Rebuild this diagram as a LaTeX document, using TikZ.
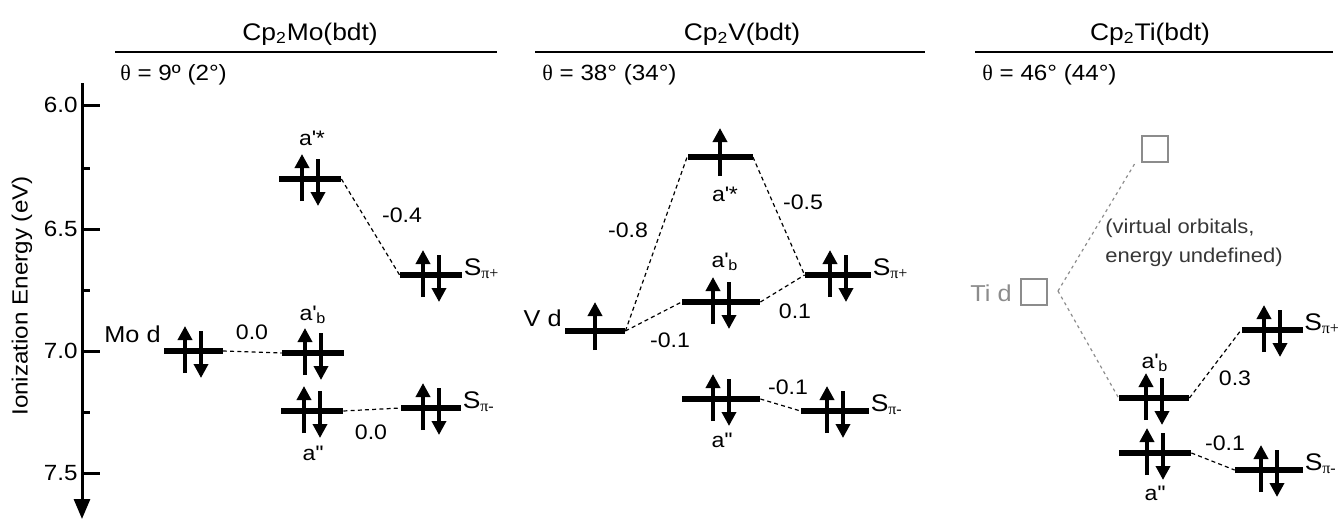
\documentclass[tikz,border=0pt]{standalone}
\usepackage{fontspec}
\setmainfont{Liberation Sans}[FakeStretch=1.1]
\newfontfamily\greekserif{Liberation Serif}
\usetikzlibrary{arrows.meta}
\definecolor{tigray}{RGB}{140,140,140}
\definecolor{notegray}{RGB}{55,55,55}

\begin{document}
\begin{tikzpicture}[x=0.5pt, y=-0.5pt,
    every node/.style={font=\fontsize{10.5}{12}\selectfont, inner sep=0pt},
    orb/.style={rectangle, fill=black, inner sep=0pt, minimum height=3.2pt, minimum width=#1},
    eup/.style={line width=2.1pt, -{Triangle[width=7pt, length=7pt]}},
    conn/.style={line width=0.6pt, dash pattern=on 2pt off 1.6pt},
    vconn/.style={conn, tigray, dash pattern=on 1.5pt off 1.8pt},
    vbox/.style={draw=tigray, line width=0.7pt, minimum width=13pt, minimum height=13pt},
    heading/.style={font=\fontsize{12}{14}\selectfont},
    angle/.style={font=\fontsize{11}{13}\selectfont, anchor=west},
    spi/.style={anchor=base west, font=\fontsize{12}{14}\selectfont},
    titlerule/.style={line width=0.8pt},
    axtick/.style={line width=1.5pt}
]
\useasboundingbox (0,0) rectangle (1340,520);

% Energy axis
\draw[line width=1.5pt, -{Triangle[width=8pt, length=10pt]}] (82,83) -- (82,519);
\foreach \y/\t [count=\i] in {105/6.0, 229/6.5, 351/7.0, 473/7.5} {
    \draw[axtick] (81,\y) -- (100,\y);
    \node[anchor=east, font=\fontsize{11}{13}\selectfont] (tk\i) at (78,\y) {\t};
}
\foreach \y in {168, 290, 412} {
    \draw[axtick] (81,\y) -- (90,\y);
}
\node[rotate=90, font=\fontsize{11}{13}\selectfont] (ylab) at (22,296) {Ionization Energy (eV)};

% Panel headings
\node[heading] (h1) at (310,34) {Cp\textsubscript{2}Mo(bdt)};
\node[heading] (h2) at (742,34) {Cp\textsubscript{2}V(bdt)};
\node[heading] (h3) at (1150,34) {Cp\textsubscript{2}Ti(bdt)};
\draw[titlerule] (115,52) -- (497,52);
\draw[titlerule] (535,52) -- (925,52);
\draw[titlerule] (975,52) -- (1333,52);
\node[angle] (ang1) at (120,75) {{\greekserif θ} = 9º (2°)};
\node[angle] (ang2) at (542,75) {{\greekserif θ} = 38° (34°)};
\node[angle] (ang3) at (982,75) {{\greekserif θ} = 46° (44°)};

% Cp2Mo(bdt) levels
\node[orb=29.5pt] (mod) at (193,351) {};
\node[orb=31pt] (mastar) at (310,179) {};
\node[orb=31pt] (mab) at (313,353) {};
\node[orb=31pt] (mapp) at (312,411) {};
\node[orb=31pt] (mspp) at (431,275) {};
\node[orb=30pt] (mspm) at (431,408) {};

% Cp2V(bdt) levels
\node[orb=30pt] (vd) at (595,331) {};
\node[orb=32.5pt] (vastar) at (720,157) {};
\node[orb=39pt] (vab) at (721,302) {};
\node[orb=39pt] (vapp) at (721,399) {};
\node[orb=33pt] (vspp) at (838,275) {};
\node[orb=34pt] (vspm) at (835,411) {};

% Cp2Ti(bdt) levels
\node[vbox] (tid) at (1034,292) {};
\node[vbox] (tvirt) at (1155,149) {};
\coordinate (tvert) at (1058,291);
\node[orb=35pt] (tab) at (1154,398) {};
\node[orb=36pt] (tapp) at (1155,453) {};
\node[orb=30.5pt] (tspp) at (1272,330) {};
\node[orb=34pt] (tspm) at (1269,470) {};

% electrons
\foreach \n in {mod, mastar, mab, mapp, mspp, mspm, vab, vapp, vspp, vspm, tab, tapp, tspp, tspm} {
    \draw[eup] ([xshift=-4pt]\n.center) ++(0,22) -- ++(0,-47);
    \draw[eup] ([xshift=4pt]\n.center) ++(0,-20) -- ++(0,47);
}
\foreach \n in {vd, vastar} {
    \draw[eup] (\n.center) ++(0,19) -- ++(0,-48);
}

% correlation lines
\foreach \i/\j in {mod/mab, mapp/mspm, mastar/mspp, vd/vastar, vd/vab, vastar/vspp, vab/vspp, vapp/vspm, tab/tspp, tapp/tspm} {
    \draw[conn] (\i.east) -- (\j.west);
}
\draw[vconn] (tvert) -- ([xshift=-3pt]tvirt.south west);
\draw[vconn] (tvert) -- (tab.west);

% orbital labels
\node[anchor=east, font=\fontsize{11.5}{13}\selectfont] (lmod) at (161,334) {Mo d};
\node (lmastar) at (312,138) {a\textquotesingle*};
\node (lmab) at (313,315) {a\textquotesingle\textsubscript{b}};
\node (lmapp) at (313,453) {a\textquotesingle\textquotesingle};
\node[spi] (lmspp) at ([xshift=0.5pt]mspp.east) {S\textsubscript{\greekserif π+}};
\node[spi] (lmspm) at ([xshift=0.5pt]mspm.east) {S\textsubscript{\greekserif π-}};

\node[anchor=east, font=\fontsize{11.5}{13}\selectfont] (lvd) at (562,318) {V d};
\node (lvastar) at (725,194) {a\textquotesingle*};
\node (lvab) at (725,262) {a\textquotesingle\textsubscript{b}};
\node (lvapp) at (722,440) {a\textquotesingle\textquotesingle};
\node[spi] (lvspp) at ([xshift=0.5pt]vspp.east) {S\textsubscript{\greekserif π+}};
\node[spi] (lvspm) at ([xshift=0.5pt]vspm.east) {S\textsubscript{\greekserif π-}};

\node[anchor=east, tigray, font=\fontsize{11.5}{13}\selectfont] (ltid) at (1012,293) {Ti d};
\node[anchor=north west, align=left, notegray, font=\fontsize{10}{14.5}\selectfont] (lvirt) at (1105,219) {(virtual orbitals,\\energy undefined)};
\node (ltab) at (1155,363) {a\textquotesingle\textsubscript{b}};
\node (ltapp) at (1155,493) {a\textquotesingle\textquotesingle};
\node[spi] (ltspp) at ([xshift=0.5pt]tspp.east) {S\textsubscript{\greekserif π+}};
\node[spi] (ltspm) at ([xshift=0.5pt]tspm.east) {S\textsubscript{\greekserif π-}};

% shifts
\node (d1) at (252,332) {0.0};
\node (d2) at (371,432) {0.0};
\node (d3) at (402,215) {-0.4};
\node (d4) at (628,230) {-0.8};
\node (d5) at (803,202) {-0.5};
\node (d6) at (670,340) {-0.1};
\node (d7) at (795,311) {0.1};
\node (d8) at (788,387) {-0.1};
\node (d9) at (1235,378) {0.3};
\node (d10) at (1225,443) {-0.1};

\end{tikzpicture}
\end{document}
